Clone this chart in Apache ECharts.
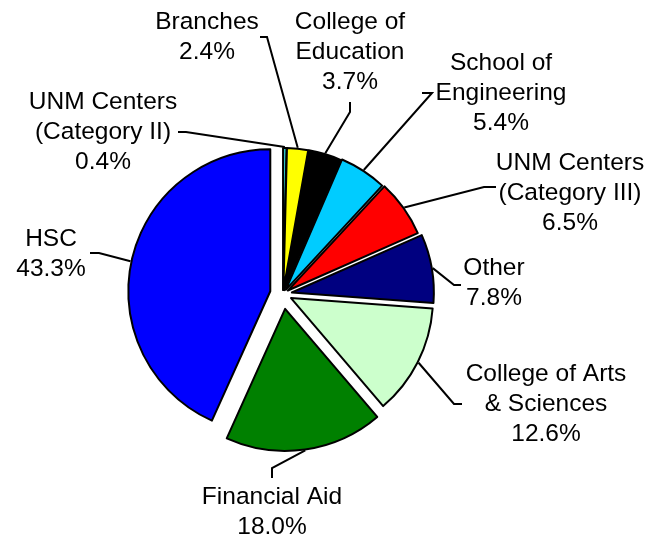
<!DOCTYPE html>
<html><head><meta charset="utf-8">
<script src="https://cdn.jsdelivr.net/npm/echarts@6/dist/echarts.min.js"></script>
<style>html,body{margin:0;padding:0;background:#fff}#c{width:650px;height:538px}</style>
</head><body><div id="c"></div>
<script>
// ---- data ----
const categories = ['UNM Centers\n(Category II)', 'Branches', 'College of\nEducation', 'School of\nEngineering',
  'UNM Centers\n(Category III)', 'Other', 'College of Arts\n& Sciences', 'Financial Aid', 'HSC'];
const shares = [0.4, 2.4, 3.7, 5.4, 6.5, 7.8, 12.6, 18.0, 43.3];
const colors = ['#33CCCC', '#FFFF00', '#000000', '#00CCFF', '#FF0000', '#000080', '#CCFFCC', '#008000', '#0000FF'];

// ---- layout (positions / styles) ----
const CX = 283, CY = 294, R = 142;
const explode = [4, 4, 4, 5, 6, 9, 9, 15, 13];
const labelPos = [[103, 132], [207, 37], [350, 52], [501, 93], [570, 193], [494, 283], [546, 404], [272, 512], [51, 254]];
const leaderElbow = [[186, 132], [267, 37], [350, 112], [432, 93], [484, 187], [454, 285], [454, 404], [272, 468], [99, 253]];
const leaderEnd = [[178, 132], [260, 37], [350, 102], [422, 93], [496, 187], [461, 285], [462, 404], [272, 478], [90, 253]];

const total = shares.reduce((a, b) => a + b, 0);
let acc = 0;
const series = shares.map((v, i) => {
  const mid = (acc + v / 2) / total * 2 * Math.PI;
  acc += v;
  const dx = Math.sin(mid), dy = -Math.cos(mid);
  const cx = CX + explode[i] * dx, cy = CY + explode[i] * dy;
  const sx = cx + (R + 1) * dx, sy = cy + (R + 1) * dy;
  return {
    type: 'pie', silent: true, animation: false, startAngle: 90, clockwise: true,
    radius: [0, R], center: [cx, cy], avoidLabelOverlap: false,
    data: shares.map((w, j) => j === i ? {
      value: w, name: categories[j],
      itemStyle: { color: colors[j], borderColor: '#000', borderWidth: 2 },
      label: {
        show: true, color: '#000', fontFamily: 'Liberation Sans, Arial, sans-serif', fontSize: 24.5, lineHeight: 30,
        formatter: p => p.name + '\n' + p.value.toFixed(1) + '%'
      },
      labelLine: { show: true, smooth: false, lineStyle: { color: '#000', width: 2 } }
    } : {
      value: w, name: categories[j],
      itemStyle: { color: 'rgba(0,0,0,0)', borderWidth: 0 },
      label: { show: false }, labelLine: { show: false }
    }),
    labelLayout: p => p.dataIndex === i ? {
      x: labelPos[i][0], y: labelPos[i][1], align: 'center', verticalAlign: 'middle',
      labelLinePoints: [[sx, sy], leaderElbow[i], leaderEnd[i]]
    } : {}
  };
});

const chart = echarts.init(document.getElementById('c'), null, { renderer: 'canvas' });
chart.setOption({ backgroundColor: '#fff', animation: false, series: series });
</script>
</body></html>
